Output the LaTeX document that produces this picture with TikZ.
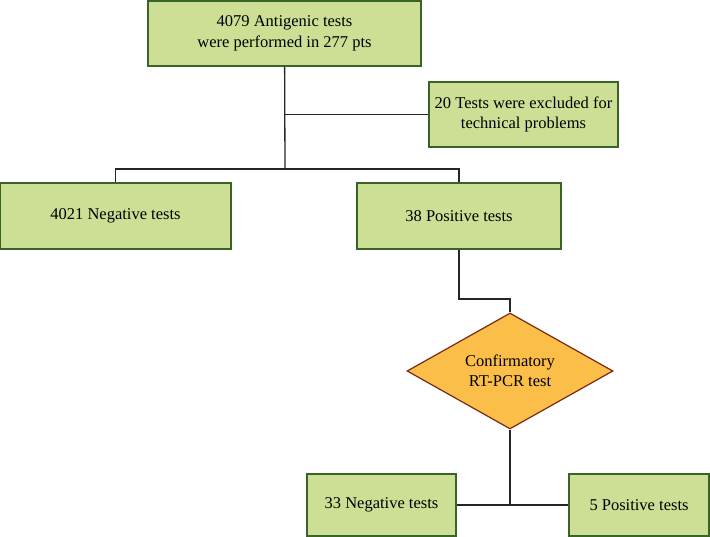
\documentclass[tikz,border=0pt]{standalone}
\usepackage{fontspec}
\setmainfont{Liberation Serif}
\usepackage{xcolor}
\usetikzlibrary{positioning,shapes.geometric}

\definecolor{boxgreen}{HTML}{CCDF94}
\definecolor{boxedge}{HTML}{386428}
\definecolor{pcrfill}{HTML}{FBBE48}
\definecolor{pcredge}{HTML}{7A2814}

\begin{document}
\begin{tikzpicture}[x=1pt,y=-1pt,
                    link/.style={draw=black!85,line width=1.3pt},
                    main box/.style={rectangle,draw=boxedge,fill=boxgreen,line width=1.4pt,
                    font=\fontsize{16.5}{20.5}\selectfont,align=center,inner sep=2pt},
                    test node/.style={diamond,draw=pcredge,fill=pcrfill,line width=1.2pt,
                    font=\fontsize{16.5}{20.5}\selectfont,align=center,aspect=1.78,inner sep=0pt,
                    minimum width=206pt,minimum height=116pt}]

\useasboundingbox (0,0) rectangle (710,537);

\node[main box,minimum width=273pt,minimum height=65pt] (top) at (284.5,33.5)
    {4079 Antigenic tests\\were performed in 277 pts};
\node[main box,minimum width=189pt,minimum height=65pt] (excl) at (523.5,114.5)
    {20 Tests were excluded for\\technical problems};
\node[main box,minimum width=231pt,minimum height=66pt] (neg) at (115.5,216) {4021 Negative tests};
\node[main box,minimum width=204pt,minimum height=66pt] (pos) at (459,216) {38 Positive tests};
\node[test node] (pcr) at (510,371) {Confirmatory\\RT-PCR test};
\node[main box,minimum width=149pt,minimum height=62pt] (neg2) at (381.5,505) {33 Negative tests};
\node[main box,minimum width=140pt,minimum height=62pt] (pos2) at (639,505) {5 Positive tests};

\coordinate (split) at (285,169);
\coordinate (cut) at (285,114.5);
\coordinate (bend) at (459,299);
\coordinate (join) at (510,505);

\path[link]
    (top) edge (split)
    (cut) edge (excl);
\draw[link] (neg) |- (split) -| (pos);
\draw[link] (pos) -- (bend) -| (pcr);
\draw[link] (pcr) -- (join);
\draw[link] (neg2) -- (pos2);

\end{tikzpicture}
\end{document}
